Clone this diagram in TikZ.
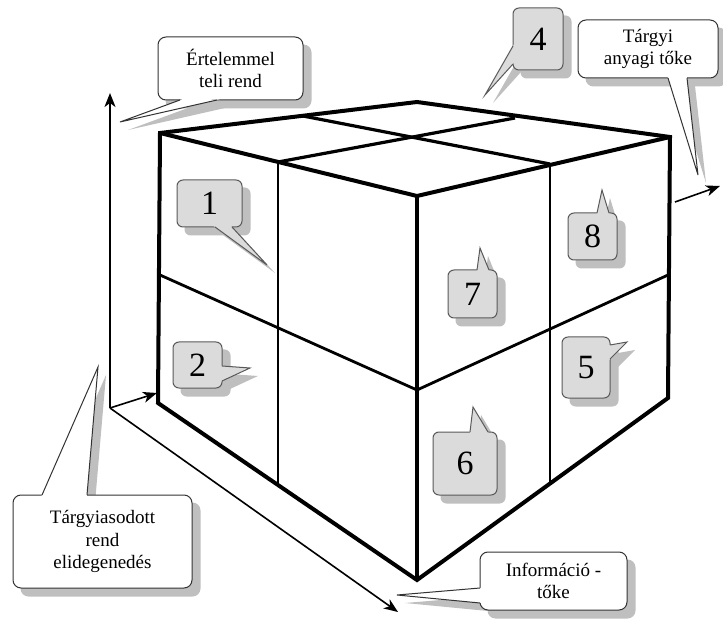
\documentclass[tikz,border=0pt]{standalone}
\usepackage{fontspec}
\setmainfont{Liberation Serif}
\usetikzlibrary{arrows.meta}
\usetikzlibrary{calc}
\usetikzlibrary{backgrounds}

\tikzset{
  edge/.style={line width=4pt},
  inner/.style={line width=2.8pt},
  topline/.style={line width=3.2pt},
  axis/.style={line width=1.6pt, -{Stealth[length=14pt,width=11pt,inset=4pt]}},
  numbox/.style={draw=black!65, fill=black!14, line width=1pt, rounded corners=6pt, inner sep=0pt, font=\fontsize{34}{34}\selectfont},
  txtbox/.style={draw=black!80, fill=white, line width=1pt, rounded corners=8pt, inner sep=0pt, align=center, font=\fontsize{19}{22.5}\selectfont},
  shade/.style={fill=black!25},
}

\begin{document}
\begin{tikzpicture}[x=1pt,y=-1pt]
	\useasboundingbox (0,0) rectangle (723,620);
	% corners of the cube
	\coordinate (L) at (160,133);
	\coordinate (B) at (417,102);
	\coordinate (R) at (670,137);
	\coordinate (F) at (417,196);
	\coordinate (Lb) at (158,403);
	\coordinate (Fb) at (417,580);
	\coordinate (Rb) at (668,398);
	\draw [edge] (L) -- (B) -- (R) -- (Rb) -- (Fb) -- (Lb) -- cycle;
	\draw [edge] (L) -- (F) -- (R);
	\draw [edge] (F) -- (Fb);
	% dividing lines
	\draw [topline] (303,116) -- (550,164);
	\draw [topline] (278,162) -- (515,118);
	\draw [inner] (278,162) -- (278,484);
	\draw [inner] (160,275) -- (417,390);
	\draw [inner] (550,164) -- (550,484);
	\draw [inner] (417,390) -- (668,275);
	% axes
	\coordinate (O) at (110,408);
	\coordinate (up) at (110,93);
	\coordinate (corner) at (157,393);
	\coordinate (down) at (398,612);
	\coordinate (rfrom) at (675,202);
	\coordinate (rto) at (720,186);
	\draw [axis] (O) -- (up);
	\draw [axis] (O) -- (corner);
	\draw [axis] (O) -- (down);
	\draw [axis] (rfrom) -- (rto);
	% numbered callouts
	\foreach \n/\c/\w/\h/\a/\b/\p in {
		1/{209.5,203.5}/65/47/{215,227}/{232,227}/{267,265},
		2/{197.5,365}/49/46/{222,366}/{222,381}/{250,368},
		4/{538,39}/50/62/{513,46}/{513,64}/{485,95},
		5/{586,367.5}/48/61/{610,345}/{610,359}/{627,342},
		6/{465,463.5}/64/63/{470,432}/{488,432}/{473,407},
		7/{472.5,294}/49/48/{477,270}/{489,270}/{480,248},
		8/{592.5,236.5}/49/47/{597,213}/{609,213}/{602,190}}
	{
		\node [numbox, minimum width=\w, minimum height=\h] (num\n) at (\c) {\n};
		\begin{pgfonlayer}{background}
			\fill [shade, rounded corners=6pt] ([shift={(8,8)}]num\n.south west) rectangle ([shift={(8,8)}]num\n.north east);
			\fill [shade, shift={(8,8)}] (\a) -- (\p) -- (\b) -- cycle;
		\end{pgfonlayer}
		\fill [black!14] ($(\a)!-3pt!(\p)$) -- (\p) -- ($(\b)!-3pt!(\p)$) -- cycle;
		\draw [black!65, line width=1pt] (\a) -- (\p) -- (\b);
	}
	% text callouts
	\foreach \n/\c/\w/\h/\t/\a/\b/\p in {
		ert/{230.5,68.5}/145/63/{Értelemmel\\teli rend}/{180,100}/{217,100}/{120,122},
		targy/{648,49}/140/58/{Tárgyi\\anyagi tőke}/{668,78}/{687,78}/{698,175},
		elid/{102.5,541.5}/179/93/{Tárgyiasodott\\rend\\elidegenedés}/{42,495}/{87,495}/{98,367},
		info/{553.5,581}/147/58/{Információ -\\tőke}/{480,588}/{480,603}/{397,595}}
	{
		\node [txtbox, minimum width=\w, minimum height=\h] (txt\n) at (\c) {\t};
		\begin{pgfonlayer}{background}
			\fill [shade, rounded corners=8pt] ([shift={(8,8)}]txt\n.south west) rectangle ([shift={(8,8)}]txt\n.north east);
			\fill [shade, shift={(8,8)}] (\a) -- (\p) -- (\b) -- cycle;
		\end{pgfonlayer}
		\fill [white] ($(\a)!-3pt!(\p)$) -- (\p) -- ($(\b)!-3pt!(\p)$) -- cycle;
		\draw [black!80, line width=1pt] (\a) -- (\p) -- (\b);
	}
\end{tikzpicture}
\end{document}
